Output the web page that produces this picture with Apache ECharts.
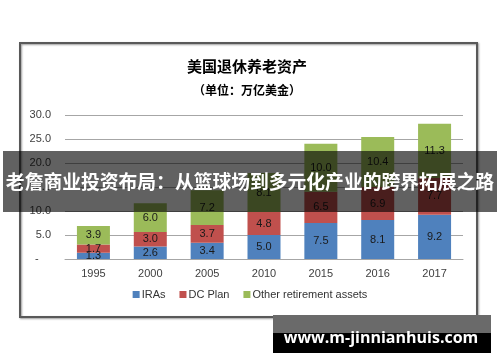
<!DOCTYPE html>
<html>
<head>
<meta charset="utf-8">
<script src="https://cdn.jsdelivr.net/npm/echarts@6/dist/echarts.min.js"></script>
<style>html,body{margin:0;padding:0;background:#fff;}#c{width:500px;height:362px;}</style>
</head>
<body>
<div id="c"></div>
<script>
const years = ['1995', '2000', '2005', '2010', '2015', '2016', '2017'];
const iras = [1.3, 2.6, 3.4, 5.0, 7.5, 8.1, 9.2];
const dcPlan = [1.7, 3.0, 3.7, 4.8, 6.5, 6.9, 7.7];
const otherAssets = [3.9, 6.0, 7.2, 8.1, 10.0, 10.4, 11.3];
const seriesNames = ['IRAs', 'DC Plan', 'Other retirement assets'];
const yTicks = [0, 5, 10, 15, 20, 25, 30];

const chart = echarts.init(document.getElementById('c'));
const numFont = '"Liberation Sans", Arial, sans-serif';
const cjk = '"Noto Sans CJK SC", sans-serif';
const colors = ['#4F81BD', '#C0504D', '#9BBB59'];

function mkSeries(name, data, color) {
  return {
    name: name, type: 'bar', stack: 'total', data: data, barWidth: 33,
    itemStyle: { color: color },
    label: { show: true, position: 'inside', color: '#1a1a1a', fontSize: 11, fontFamily: numFont,
      formatter: p => Number(p.value).toFixed(1) }
  };
}

chart.setOption({
  animation: false,
  backgroundColor: '#fff',
  color: colors,
  grid: { left: 65, right: 37, top: 115, bottom: 103 },
  legend: {
    data: seriesNames, bottom: 57, left: 'center', icon: 'rect', itemWidth: 7, itemHeight: 7,
    itemGap: 14, textStyle: { fontSize: 11, color: '#333', fontFamily: numFont, padding: [0, 0, 0, -3] }
  },
  xAxis: {
    type: 'category', data: years,
    axisLine: { lineStyle: { color: '#a6a6a6' } },
    axisTick: { show: false },
    axisLabel: { color: '#404040', fontSize: 11, fontFamily: numFont, margin: 9 }
  },
  yAxis: {
    type: 'value', min: yTicks[0], max: yTicks[yTicks.length - 1], interval: 5,
    axisLine: { show: false }, axisTick: { show: false },
    splitLine: { lineStyle: { color: '#a6a6a6' } },
    axisLabel: { color: '#404040', fontSize: 11, fontFamily: numFont, margin: 14,
      formatter: v => v === 0 ? '-    ' : v.toFixed(1) }
  },
  series: [
    mkSeries(seriesNames[0], iras, colors[0]),
    mkSeries(seriesNames[1], dcPlan, colors[1]),
    mkSeries(seriesNames[2], otherAssets, colors[2])
  ],
  graphic: [
    { type: 'rect', z: -10, shape: { x: 20, y: 43, width: 457, height: 274 },
      style: { fill: 'none', stroke: '#595959', lineWidth: 2, shadowBlur: 2, shadowOffsetX: 1, shadowOffsetY: 1, shadowColor: 'rgba(0,0,0,0.4)' } },
    { type: 'text', x: 247, y: 66, style: { text: '美国退休养老资产', font: 'bold 15px ' + cjk, fill: '#000', align: 'center', verticalAlign: 'middle' } },
    { type: 'text', x: 247, y: 90, style: { text: '（单位：万亿美金）', font: 'bold 12px ' + cjk, fill: '#000', align: 'center', verticalAlign: 'middle' } },
    { type: 'rect', z: 100, shape: { x: 3, y: 151, width: 494, height: 61 }, style: { fill: 'rgba(0,0,0,0.62)' } },
    { type: 'text', z: 101, x: 250, y: 182, style: { text: '老詹商业投资布局：从篮球场到多元化产业的跨界拓展之路', font: 'bold 18.8px ' + cjk, fill: '#fff', align: 'center', verticalAlign: 'middle' } },
    { type: 'rect', z: 100, shape: { x: 273, y: 315, width: 218, height: 18 }, style: { fill: '#6a6a6a' } },
    { type: 'rect', z: 100, shape: { x: 273, y: 333, width: 218, height: 20 }, style: { fill: '#000' } },
    { type: 'text', z: 101, x: 381, y: 338, style: { text: 'www.m-jinnianhuis.com', font: 'bold 16px "Open Sans", sans-serif', fill: '#fff', align: 'center', verticalAlign: 'middle' } }
  ]
});
</script>
</body>
</html>
